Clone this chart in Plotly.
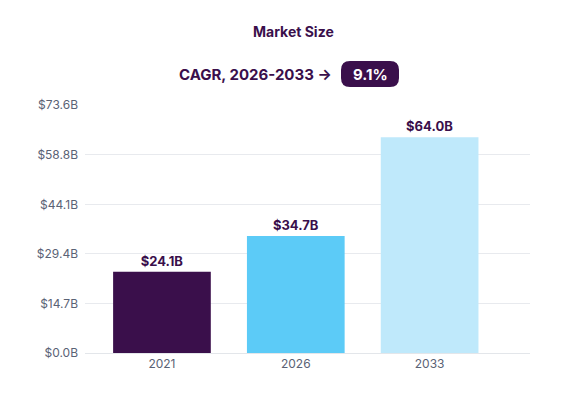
import plotly.graph_objects as go

years = ["2021", "2026", "2033"]
values = [24.1, 34.7, 64.0]
bar_colors = ["#3a0f4b", "#5ccbf7", "#bfe9fb"]
tick_vals = [0, 14.7, 29.4, 44.1, 58.8, 73.6]
tick_text = ["$0.0B", "$14.7B", "$29.4B", "$44.1B", "$58.8B", "$73.6B"]

L, T, W, H = 77, 97, 445, 248  # plot area in figure pixels


def px(x):
    return (x - L) / W


def py(y):
    return (T + H - y) / H


fig = go.Figure()
fig.add_trace(go.Bar(
    x=years, y=values,
    marker=dict(color=bar_colors, line=dict(width=0)),
    text=[f"${v:.1f}B" for v in values],
    textposition="outside",
    textfont=dict(family="Inter", size=13, color="#3a0f4b", weight="bold"),
    cliponaxis=False,
    width=0.73,
))

# rounded badge behind the CAGR value
x0, x1, y0, y1 = px(333), px(391), py(79), py(53)
rx, ry = 9 / W, 9 / H
badge = (f"M {x0+rx},{y0} L {x1-rx},{y0} Q {x1},{y0} {x1},{y0+ry} "
         f"L {x1},{y1-ry} Q {x1},{y1} {x1-rx},{y1} L {x0+rx},{y1} "
         f"Q {x0},{y1} {x0},{y1-ry} L {x0},{y0+ry} Q {x0},{y0} {x0+rx},{y0} Z")

fig.update_layout(
    width=586, height=415,
    margin=dict(l=L, r=586 - L - W, t=T, b=415 - T - H),
    paper_bgcolor="white", plot_bgcolor="white",
    showlegend=False,
    font=dict(family="Inter", color="#5a6275"),
    xaxis=dict(type="category", range=[-0.575, 2.75], showgrid=False,
               showline=True, linecolor="#e3e6ea",
               tickfont=dict(size=12, color="#5a6275"), ticks=""),
    yaxis=dict(range=[0, 73.6], tickvals=tick_vals, ticktext=tick_text,
               showgrid=True, gridcolor="#e8eaee", zeroline=False,
               tickfont=dict(size=12, color="#5a6275"), ticklabelstandoff=6),
    shapes=[dict(type="path", path=badge, xref="paper", yref="paper",
                 fillcolor="#3a0f4b", line=dict(width=0), layer="above")],
    annotations=[
        dict(text="<b>Market Size</b>", xref="paper", yref="paper",
             x=px(285), y=py(24), showarrow=False,
             font=dict(size=14, color="#3a0f4b"), xanchor="center", yanchor="middle"),
        dict(text="<b>CAGR, 2026-2033 →</b>", xref="paper", yref="paper",
             x=px(326), y=py(66), showarrow=False,
             font=dict(size=15, color="#3a0f4b"), xanchor="right", yanchor="middle"),
        dict(text="<b>9.1%</b>", xref="paper", yref="paper",
             x=px(362), y=py(66), showarrow=False,
             font=dict(size=15, color="white"), xanchor="center", yanchor="middle"),
    ],
)

fig.write_html("out.html")
